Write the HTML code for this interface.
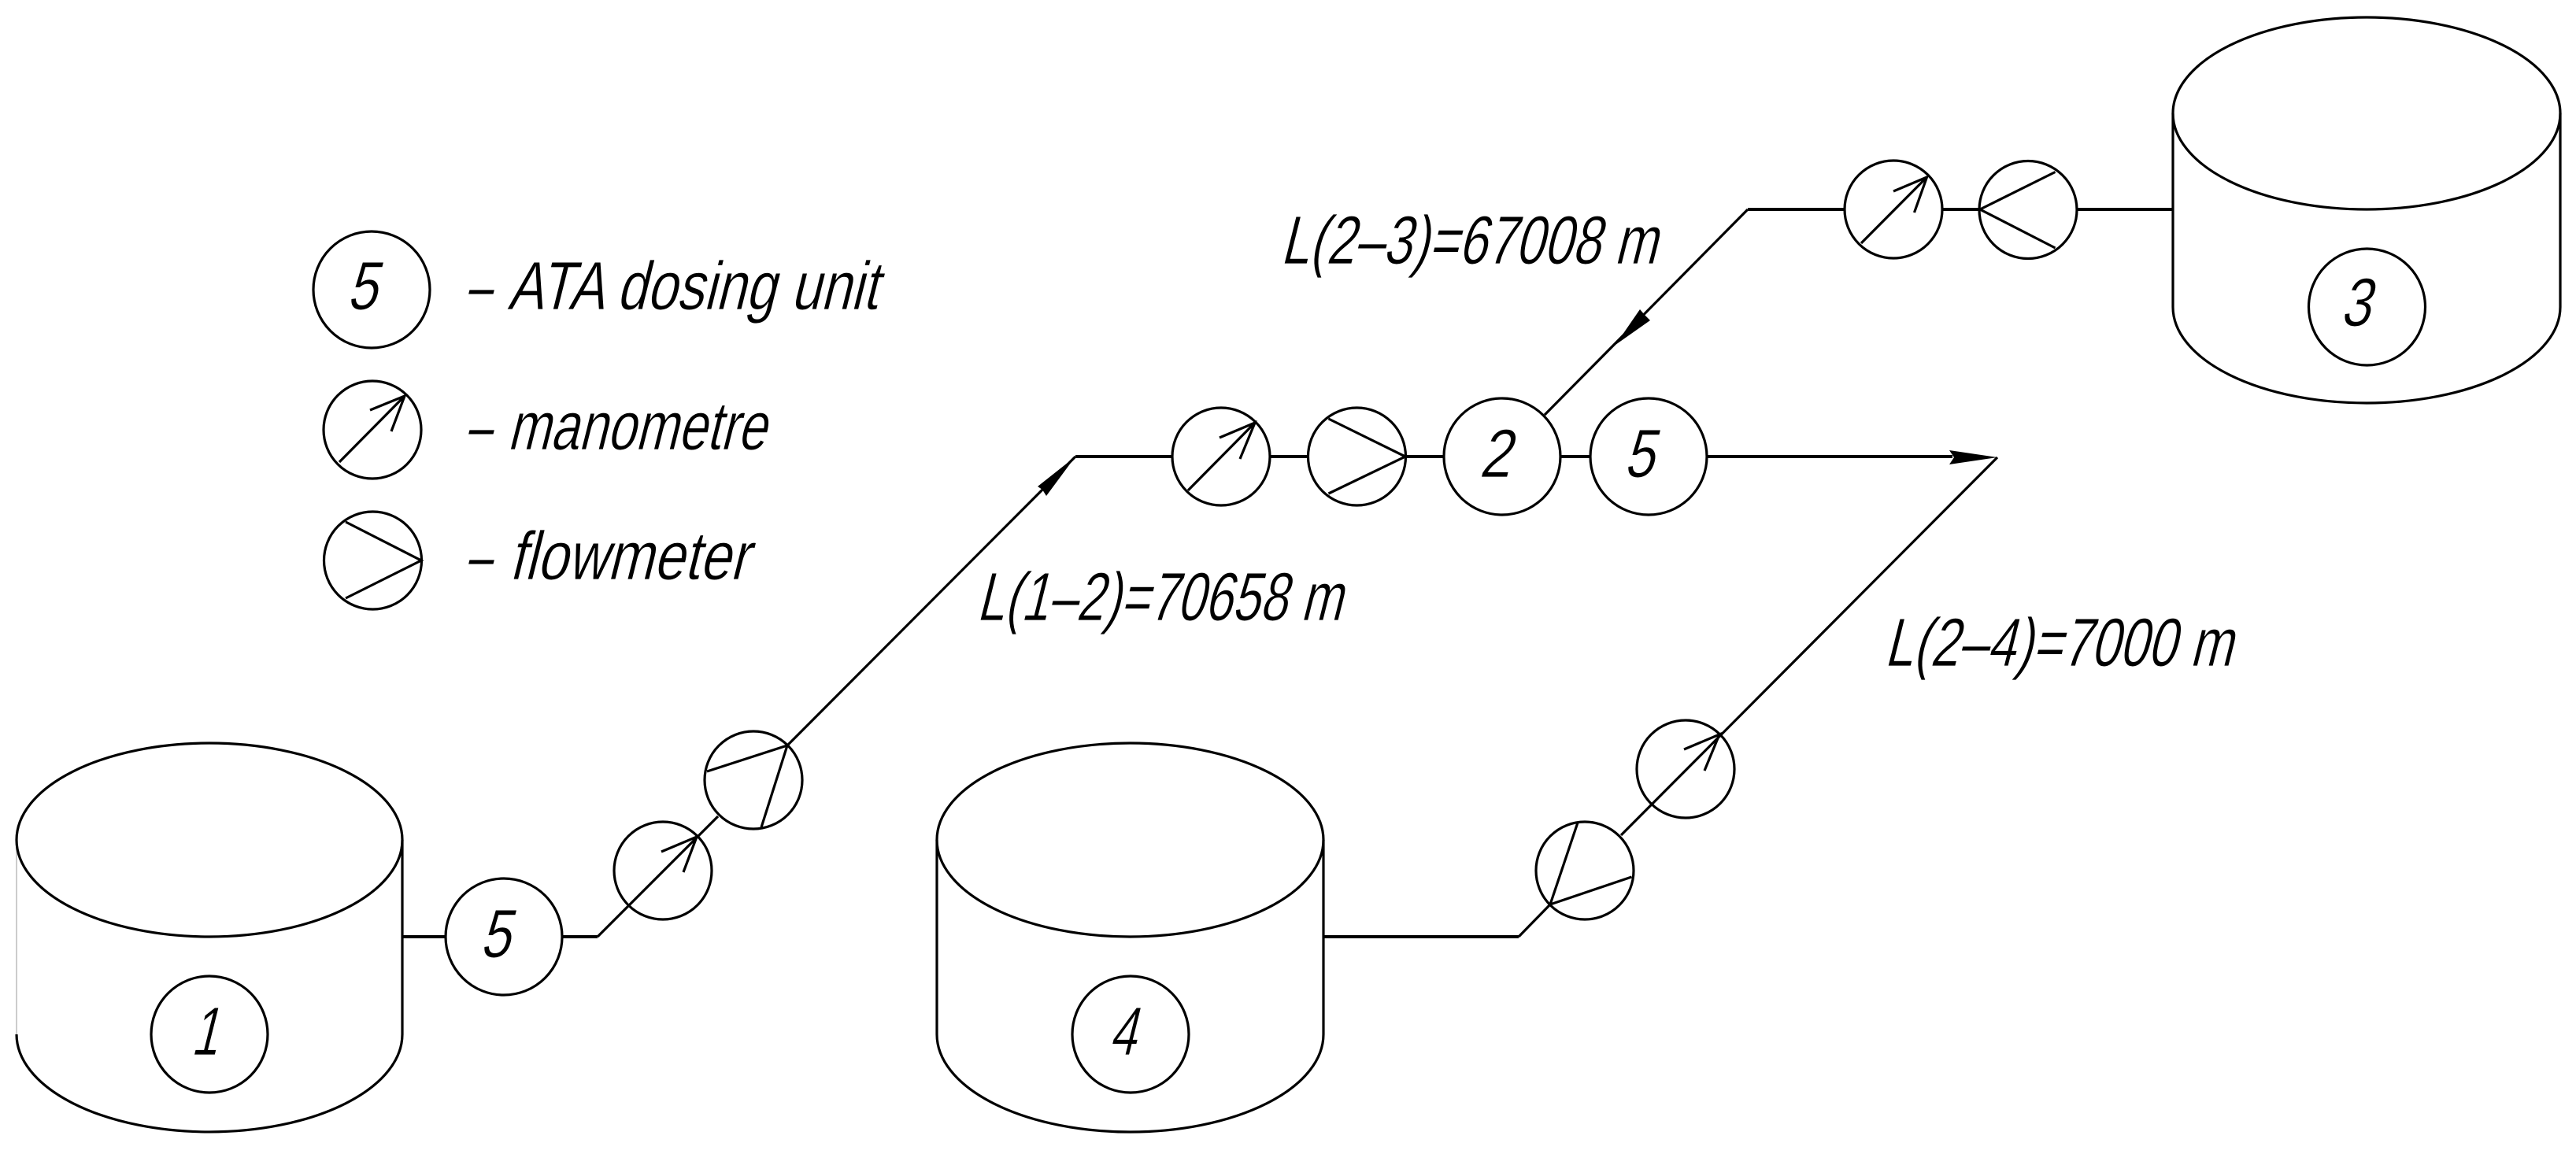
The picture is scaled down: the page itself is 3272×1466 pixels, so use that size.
<!DOCTYPE html>
<html><head><meta charset="utf-8"><style>
html,body{margin:0;padding:0;background:#fff;width:3272px;height:1466px;overflow:hidden}
svg{display:block}
text{font-family:"Liberation Sans",sans-serif;font-size:87px;fill:#000;stroke:#fff;stroke-width:.8}
.s{fill:none;stroke:#000;stroke-width:3.2}
.h{fill:none;stroke:#000;stroke-width:4}
</style></head><body>
<svg width="3272" height="1466" viewBox="0 0 3272 1466" xmlns="http://www.w3.org/2000/svg">
<rect width="3272" height="1466" fill="#fff"/>
<path d="M21 1067V1314" fill="none" stroke="#ccc" stroke-width="2"/>
<g class="s">
<!-- tank 1 -->
<ellipse cx="266" cy="1067" rx="245" ry="123"/>
<path d="M21 1314A245 124 0 0 0 511 1314V1067"/>
<circle cx="266" cy="1314" r="74"/>
<!-- tank 4 -->
<ellipse cx="1435.5" cy="1067" rx="245.5" ry="123"/>
<path d="M1190 1067V1314A245.5 124 0 0 0 1681 1314V1067"/>
<circle cx="1436" cy="1314" r="74"/>
<!-- tank 3 -->
<ellipse cx="3006" cy="144" rx="246" ry="122"/>
<path d="M2760 144V390A246 122 0 0 0 3252 390V144"/>
<circle cx="3006.5" cy="390" r="74"/>
<!-- legend -->
<circle cx="472" cy="368" r="74"/>
<circle cx="473" cy="546" r="62"/>
<path d="M431 587L514 503M470 521L514 503L497 548"/>
<circle cx="473.5" cy="712" r="62"/>
<path d="M439 663L535 712L439 760"/>
<!-- line 1-2 -->
<circle cx="640" cy="1190" r="74"/>
<circle cx="842" cy="1106" r="62"/>
<path d="M759 1190L912 1037M840 1082L885 1063L868 1108"/>
<circle cx="957" cy="991" r="62"/>
<path d="M898 980L1000 947L967 1051M1000 947L1366 580"/>
<!-- main row -->
<circle cx="1551" cy="580" r="62"/>
<path d="M1509 623L1594 537M1549 556L1594 537L1575 583"/>
<circle cx="1723.5" cy="580" r="62"/>
<path d="M1687.5 532L1785 580L1687.5 627"/>
<circle cx="1908" cy="580" r="74"/>
<circle cx="2094" cy="580" r="74"/>
<!-- line 2-4 -->
<circle cx="2013" cy="1106" r="62"/>
<path d="M2004 1045L1969 1149L2072.5 1114"/>
<path d="M1929 1190L1969 1149"/>
<circle cx="2141" cy="977" r="62"/>
<path d="M2059 1061L2537 581M2139 952L2184 933L2165 979"/>
<!-- line 2-3 -->
<circle cx="2405" cy="266" r="62"/>
<path d="M2364 309L2447.5 225M2405 243L2447.5 225L2431.5 270"/>
<circle cx="2576" cy="266.5" r="62"/>
<path d="M2610.5 218.5L2515 266L2610.5 315"/>
<path d="M2220 266L1962 527"/>
</g>
<g class="h">
<path d="M511 1190H566M714 1190H759M1681 1190H1929"/>
<path d="M1366 580H1489M1612 580H1662M1785 580H1835M1982 580H2020M2168 580H2480"/>
<path d="M2760 266H2638M2514 266H2467M2343 266H2220"/>
</g>
<!-- arrowheads -->
<polygon points="1366,580 1318,618 1324,622 1329,630"/>
<polygon points="2537,581 2476,572 2482,581 2476,590"/>
<polygon points="2052,438 2083,393 2089,400 2096,407"/>
<!-- legend text -->
<text transform="translate(440,393) skewX(-14)" textLength="38" lengthAdjust="spacingAndGlyphs">5</text>
<text transform="translate(590,393) skewX(-14)" textLength="32" lengthAdjust="spacingAndGlyphs">–</text>
<text transform="translate(644,393) skewX(-14)" textLength="470" lengthAdjust="spacingAndGlyphs">ATA dosing unit</text>
<text transform="translate(590,571) skewX(-14)" textLength="32" lengthAdjust="spacingAndGlyphs">–</text>
<text transform="translate(644,571) skewX(-14)" textLength="328" lengthAdjust="spacingAndGlyphs">manometre</text>
<text transform="translate(590,736) skewX(-14)" textLength="32" lengthAdjust="spacingAndGlyphs">–</text>
<text transform="translate(646,736) skewX(-14)" textLength="304" lengthAdjust="spacingAndGlyphs">flowmeter</text>
<!-- labels -->
<text transform="translate(1240,788) skewX(-14)" textLength="464" lengthAdjust="spacingAndGlyphs">L(1–2)=70658 m</text>
<text transform="translate(1626,335) skewX(-14)" textLength="478" lengthAdjust="spacingAndGlyphs">L(2–3)=67008 m</text>
<text transform="translate(2393,846) skewX(-14)" textLength="442" lengthAdjust="spacingAndGlyphs">L(2–4)=7000 m</text>
<!-- digits -->
<text transform="translate(609,1216) skewX(-14)" textLength="38" lengthAdjust="spacingAndGlyphs">5</text>
<text transform="translate(242,1340) skewX(-14)" textLength="34" lengthAdjust="spacingAndGlyphs">1</text>
<text transform="translate(1408,1340) skewX(-14)" textLength="34" lengthAdjust="spacingAndGlyphs">4</text>
<text transform="translate(1878,606) skewX(-14)" textLength="40" lengthAdjust="spacingAndGlyphs">2</text>
<text transform="translate(2062,606) skewX(-14)" textLength="38" lengthAdjust="spacingAndGlyphs">5</text>
<text transform="translate(2972,414) skewX(-14)" textLength="38" lengthAdjust="spacingAndGlyphs">3</text>
</svg>
</body></html>
